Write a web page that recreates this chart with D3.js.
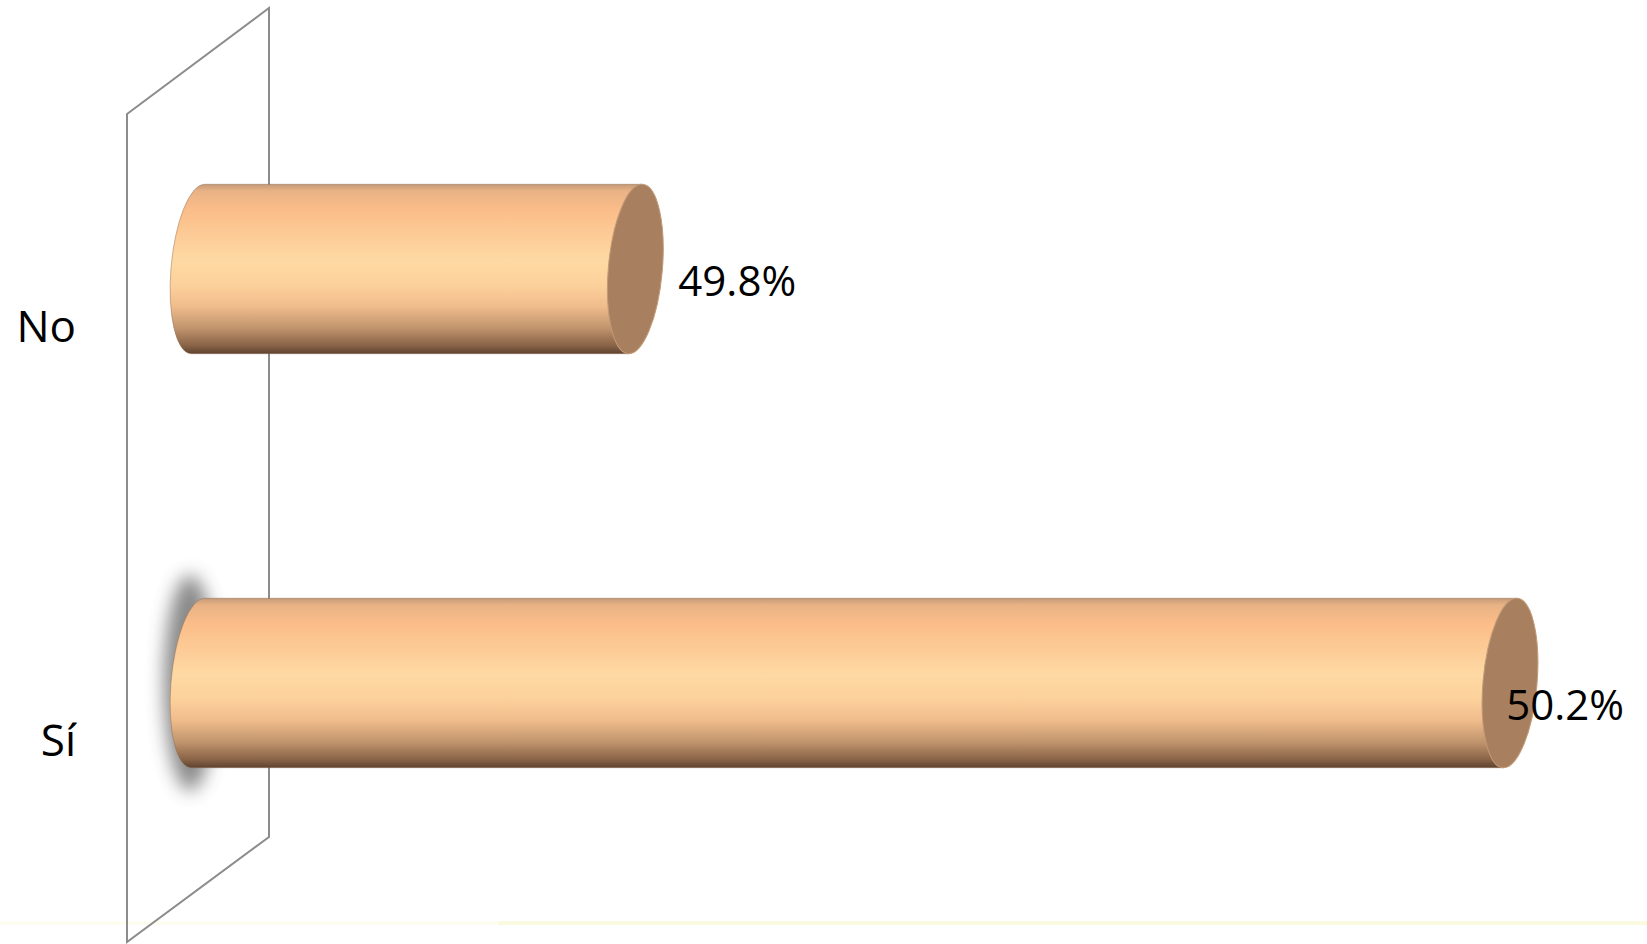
<!DOCTYPE html>
<html>
<head>
<meta charset="utf-8">
<script src="https://d3js.org/d3.v7.min.js"></script>
<style>
  body { margin: 0; background: #fff; }
  svg { display: block; }
  text { font-family: "Open Sans", "DejaVu Sans", sans-serif; fill: #000; }
</style>
</head>
<body>
<div id="chart"></div>
<script>

// Données
var categories = ["No", "Sí"];
var values = [49.8, 50.2];
var valueLabels = ["49.8%", "50.2%"];
var axisDomain = [49.6, 50.2];

// Dimensions
var W = 1647, H = 944;

var svg = d3.select("#chart").append("svg")
    .attr("width", W)
    .attr("height", H);

var defs = svg.append("defs");

// dégradé du cylindre (haut -> bas)
var grad = defs.append("linearGradient")
    .attr("id", "cyl")
    .attr("x1", 0).attr("y1", 0).attr("x2", 0).attr("y2", 1);
[[0, "#c49a78"], [0.04, "#e9b285"], [0.15, "#fbbd89"], [0.45, "#fed9a3"],
 [0.6, "#fcd09b"], [0.72, "#f0bc8c"], [0.85, "#c0946c"], [0.95, "#8a6448"], [1, "#5e4330"]]
  .forEach(function(s) {
    grad.append("stop").attr("offset", s[0]).attr("stop-color", s[1]);
  });

var blur = defs.append("filter").attr("id", "blur")
    .attr("x", "-150%").attr("y", "-50%").attr("width", "400%").attr("height", "200%");
blur.append("feGaussianBlur").attr("stdDeviation", 9);

// bande jaune pâle en bas
svg.append("rect").attr("x", 0).attr("y", 921).attr("width", W).attr("height", 4)
   .attr("fill", "#fdfdf2");
svg.append("rect").attr("x", 498).attr("y", 921).attr("width", W - 498).attr("height", 4)
   .attr("fill", "#fafae0");

// Échelles
var x = d3.scaleLinear().domain(axisDomain).range([198, 1510]);
var y = d3.scalePoint().domain(categories).range([269, 683]);

// paroi du fond (3D)
svg.append("path")
   .attr("d", "M127,114 L269,8 L269,837 L127,942 Z")
   .attr("fill", "none")
   .attr("stroke", "#8c8c8c")
   .attr("stroke-width", 2);

// géométrie de l'ellipse inclinée
var rx = 27, ry = 85, tilt = 5;
var th = tilt * Math.PI / 180;
var ty = -Math.sqrt(rx*rx*Math.sin(th)*Math.sin(th) + ry*ry*Math.cos(th)*Math.cos(th));
var ct = -rx*Math.sin(th) / -ty, st = -ry*Math.cos(th) / -ty;
var tx = rx*ct*Math.cos(th) - ry*st*Math.sin(th);

var data = categories.map(function(c, i) {
  return {cat: c, val: values[i], label: valueLabels[i], i: i};
});

// ombre à gauche de la barre "Sí"
svg.append("ellipse")
   .attr("cx", x(axisDomain[0]) - 8)
   .attr("cy", y("Sí"))
   .attr("rx", 26).attr("ry", 108)
   .attr("fill", "#7c7c7c")
   .attr("opacity", 0.9)
   .attr("filter", "url(#blur)");

var g = svg.selectAll("g.bar").data(data).enter().append("g").attr("class", "bar");

g.append("path")
 .attr("d", function(d) {
   var x0 = x(axisDomain[0]), x1 = x(d.val), cy = y(d.cat);
   return "M" + (x0 + tx) + "," + (cy + ty) +
          " L" + (x1 + tx) + "," + (cy + ty) +
          " L" + (x1 - tx) + "," + (cy - ty) +
          " L" + (x0 - tx) + "," + (cy - ty) +
          " A" + rx + "," + ry + " " + tilt + " 0 1 " + (x0 + tx) + "," + (cy + ty) + " Z";
 })
 .attr("fill", "url(#cyl)")
 .attr("stroke", "#8f6d52")
 .attr("stroke-width", 0.8)
 .attr("stroke-opacity", 0.6);

g.append("ellipse")
 .attr("cx", function(d) { return x(d.val); })
 .attr("cy", function(d) { return y(d.cat); })
 .attr("rx", rx).attr("ry", ry)
 .attr("transform", function(d) { return "rotate(" + tilt + "," + x(d.val) + "," + y(d.cat) + ")"; })
 .attr("fill", "#a8805f")
 .attr("stroke", "#c29a77")
 .attr("stroke-width", 1);

// étiquettes des catégories
svg.selectAll("text.cat").data(data).enter().append("text")
   .attr("class", "cat")
   .attr("x", 76)
   .attr("y", function(d) { return y(d.cat) + 73; })
   .attr("text-anchor", "end")
   .style("font-size", "44px")
   .text(function(d) { return d.cat; });

// étiquettes des valeurs
svg.selectAll("text.val").data(data).enter().append("text")
   .attr("class", "val")
   .style("font-size", "42px")
   .text(function(d) { return d.label; })
   .each(function(d) {
     var w = this.getComputedTextLength();
     var xi = x(d.val) + 43, dy = 27;
     if (xi + w > W - 23) { xi = W - 23 - w; dy = 37; }
     d3.select(this).attr("x", xi).attr("y", y(d.cat) + dy);
   });

</script>
</body>
</html>
